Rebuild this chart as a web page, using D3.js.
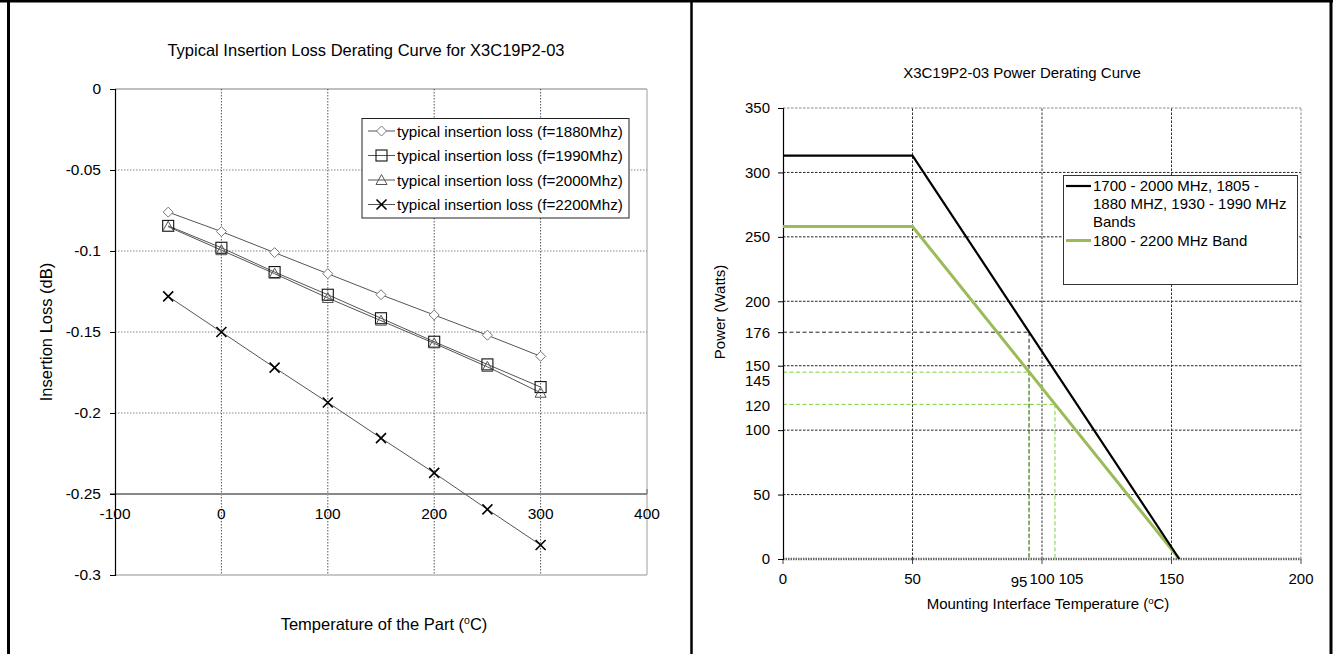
<!DOCTYPE html>
<html><head><meta charset="utf-8">
<script src="https://cdn.jsdelivr.net/npm/d3@7"></script>
<style>
html,body{margin:0;padding:0;background:#fff;}
svg{display:block;font-family:"Liberation Sans",Arial,sans-serif;}
</style></head>
<body>
<svg id="c" width="1333" height="654"></svg>
<script>
// ---------- DATA ----------
const tempsL = [-50, 0, 50, 100, 150, 200, 250, 300];
const loss1880 = [-0.076, -0.088, -0.101, -0.114, -0.127, -0.1395, -0.152, -0.165];
const loss1990 = [-0.0845, -0.098, -0.113, -0.127, -0.1415, -0.156, -0.170, -0.184];
const loss2000 = [-0.085, -0.0995, -0.114, -0.129, -0.143, -0.157, -0.1715, -0.1875];
const loss2200 = [-0.128, -0.150, -0.172, -0.1935, -0.2155, -0.237, -0.2595, -0.2815];
const seriesNamesL = ["typical insertion loss (f=1880Mhz)", "typical insertion loss (f=1990Mhz)",
                      "typical insertion loss (f=2000Mhz)", "typical insertion loss (f=2200Mhz)"];
const xTicksL = [-100, 0, 100, 200, 300, 400];
const yTicksL = [0, -0.05, -0.1, -0.15, -0.2, -0.25, -0.3];

const tempsR = [0, 50, 153];
const power1700 = [313, 313, 0];
const power1800 = [258, 258, 0];
const seriesNamesR = ["1700 - 2000 MHz, 1805 -|1880 MHZ, 1930 - 1990 MHz|Bands", "1800 - 2200 MHz Band"];
const xTicksR = [0, 50, 100, 150, 200];
const yTicksR = [0, 50, 100, 150, 200, 250, 300, 350];
const refTemps = [95, 95, 105];
const refPowers = [176, 145, 120];
const extraXLabels = [95, 105];
const extraYLabels = [176, 145, 120];

// ---------- SETUP ----------
const svg = d3.select("#c");
const FONT = '"Liberation Sans",Arial,sans-serif';

// frame
svg.append("rect").attr("x", 0).attr("y", 0).attr("width", 1333).attr("height", 654).attr("fill", "#fff");
svg.append("line").attr("x1", 0).attr("x2", 1333).attr("y1", 1).attr("y2", 1).attr("stroke", "#000").attr("stroke-width", 3);
svg.append("line").attr("x1", 8.5).attr("x2", 8.5).attr("y1", 0).attr("y2", 654).attr("stroke", "#000").attr("stroke-width", 3);
svg.append("line").attr("x1", 691.5).attr("x2", 691.5).attr("y1", 0).attr("y2", 654).attr("stroke", "#000").attr("stroke-width", 2.5);
svg.append("line").attr("x1", 1331).attr("x2", 1331).attr("y1", 0).attr("y2", 654).attr("stroke", "#000").attr("stroke-width", 3);

// ---------- LEFT CHART ----------
const xL = d3.scaleLinear().domain([-100, 400]).range([115, 647]);
const yL = d3.scaleLinear().domain([-0.3, 0]).range([575, 89]);
const gL = svg.append("g");

// plot border
gL.append("line").attr("x1", xL(-100)).attr("x2", xL(400)).attr("y1", yL(0)).attr("y2", yL(0)).attr("stroke", "#bfbfbf").attr("stroke-width", 2);
gL.append("line").attr("x1", xL(400)).attr("x2", xL(400)).attr("y1", yL(0)).attr("y2", yL(-0.3)).attr("stroke", "#bfbfbf").attr("stroke-width", 1.5);
gL.append("line").attr("x1", xL(-100)).attr("x2", xL(400)).attr("y1", yL(-0.3)).attr("y2", yL(-0.3)).attr("stroke", "#c8c8c8").attr("stroke-width", 2);

// gridlines
xTicksL.filter(v => v > -100 && v < 400).forEach(v => {
  gL.append("line").attr("x1", xL(v)).attr("x2", xL(v)).attr("y1", yL(0)).attr("y2", yL(-0.3))
    .attr("stroke", "#555").attr("stroke-width", 1).attr("stroke-dasharray", "1.5,1.5");
});
yTicksL.filter(v => v < 0 && v > -0.25).forEach(v => {
  gL.append("line").attr("x1", xL(-100)).attr("x2", xL(400)).attr("y1", yL(v)).attr("y2", yL(v))
    .attr("stroke", "#888").attr("stroke-width", 1.2).attr("stroke-dasharray", "1.5,1.5");
});
// x axis line at -0.25
gL.append("line").attr("x1", xL(-100) - 5).attr("x2", xL(400)).attr("y1", yL(-0.25)).attr("y2", yL(-0.25))
  .attr("stroke", "#888").attr("stroke-width", 2);
gL.append("line").attr("x1", xL(400)).attr("x2", xL(400)).attr("y1", yL(-0.25) - 5).attr("y2", yL(-0.25))
  .attr("stroke", "#888").attr("stroke-width", 1.5);

// y axis
const yAxisL = d3.axisLeft(yL).tickValues(yTicksL).tickSize(5).tickPadding(9)
  .tickFormat(d => d === 0 ? "0" : String(+d.toFixed(2)));
const yaxL = gL.append("g").attr("transform", `translate(${xL(-100)},0)`).call(yAxisL);
yaxL.select(".domain").attr("stroke", "#000").attr("stroke-width", 1.2);
yaxL.selectAll(".tick line").attr("stroke", "#000");
yaxL.selectAll(".tick text").attr("font-size", 15.5).attr("font-family", FONT).attr("fill", "#000");

// x labels
xTicksL.forEach(v => {
  gL.append("text").attr("x", xL(v)).attr("y", yL(-0.25) + 25).attr("text-anchor", "middle")
    .attr("font-size", 15.5).attr("font-family", FONT).text(v);
});

// series
const seriesL = [
  {vals: loss1880, marker: "diamond", mcolor: "#777"},
  {vals: loss1990, marker: "square", mcolor: "#111"},
  {vals: loss2000, marker: "triangle", mcolor: "#555"},
  {vals: loss2200, marker: "x", mcolor: "#000"}
];
const lineL = d3.line().x(d => xL(d[0])).y(d => yL(d[1]));

function drawMarker(g, type, cx, cy, color) {
  if (type === "diamond") {
    g.append("path").attr("d", `M${cx},${cy-5}L${cx+5},${cy}L${cx},${cy+5}L${cx-5},${cy}Z`)
      .attr("fill", "#fff").attr("stroke", color).attr("stroke-width", 1);
  } else if (type === "square") {
    g.append("rect").attr("x", cx - 5.5).attr("y", cy - 5.5).attr("width", 11).attr("height", 11)
      .attr("fill", "none").attr("stroke", color).attr("stroke-width", 1.1);
  } else if (type === "triangle") {
    g.append("path").attr("d", `M${cx},${cy-5.5}L${cx+5.5},${cy+4.5}L${cx-5.5},${cy+4.5}Z`)
      .attr("fill", "none").attr("stroke", color).attr("stroke-width", 1);
  } else {
    g.append("path").attr("d", `M${cx-5},${cy-5}L${cx+5},${cy+5}M${cx-5},${cy+5}L${cx+5},${cy-5}`)
      .attr("stroke", color).attr("stroke-width", 1.6);
  }
}

seriesL.forEach(s => {
  const pts = tempsL.map((t, i) => [t, s.vals[i]]);
  gL.append("path").attr("d", lineL(pts)).attr("fill", "none").attr("stroke", "#555").attr("stroke-width", 1);
});
seriesL.forEach(s => {
  tempsL.forEach((t, i) => drawMarker(gL, s.marker, xL(t), yL(s.vals[i]), s.mcolor));
});

// legend left
const legL = gL.append("g");
legL.append("rect").attr("x", 362).attr("y", 118.5).attr("width", 267).attr("height", 99.5)
  .attr("fill", "#fff").attr("stroke", "#222").attr("stroke-width", 1);
seriesL.forEach((s, i) => {
  const cy = 131 + i * 24.5;
  legL.append("line").attr("x1", 368).attr("x2", 395).attr("y1", cy).attr("y2", cy).attr("stroke", "#555").attr("stroke-width", 1);
  drawMarker(legL, s.marker, 381.5, cy, s.mcolor);
  legL.append("text").attr("x", 397).attr("y", cy + 5.5).attr("font-size", 15.2).attr("font-family", FONT).text(seriesNamesL[i]);
});

// titles
gL.append("text").attr("x", 366).attr("y", 56).attr("text-anchor", "middle").attr("font-size", 16.5)
  .attr("font-family", FONT).text("Typical Insertion Loss Derating Curve for X3C19P2-03");
gL.append("text").attr("transform", `translate(52,332) rotate(-90)`).attr("text-anchor", "middle")
  .attr("font-size", 16.5).attr("font-family", FONT).text("Insertion Loss (dB)");
const xtL = gL.append("text").attr("x", 384).attr("y", 630).attr("text-anchor", "middle")
  .attr("font-size", 16.5).attr("font-family", FONT);
xtL.append("tspan").text("Temperature of the Part (");
xtL.append("tspan").attr("font-size", 10.5).attr("dy", -6).text("o");
xtL.append("tspan").attr("dy", 6).text("C)");

// ---------- RIGHT CHART ----------
const xR = d3.scaleLinear().domain([0, 200]).range([783, 1301]);
const yR = d3.scaleLinear().domain([0, 350]).range([559, 108]);
const gR = svg.append("g");

// gridlines
yTicksR.filter(v => v > 0).forEach(v => {
  gR.append("line").attr("x1", xR(0)).attr("x2", xR(200)).attr("y1", yR(v)).attr("y2", yR(v))
    .attr("stroke", v === 350 ? "#888" : "#222").attr("stroke-width", 1).attr("stroke-dasharray", "2.5,1.5");
});
xTicksR.filter(v => v > 0).forEach(v => {
  gR.append("line").attr("x1", xR(v)).attr("x2", xR(v)).attr("y1", yR(0)).attr("y2", yR(350))
    .attr("stroke", v === 200 ? "#888" : "#333").attr("stroke-width", 1).attr("stroke-dasharray", "2.5,1.5");
});
// x axis line (0)
gR.append("line").attr("x1", xR(0)).attr("x2", xR(200)).attr("y1", yR(0)).attr("y2", yR(0))
  .attr("stroke", "#666").attr("stroke-width", 2.5).attr("stroke-dasharray", "1.5,1");
xTicksR.forEach(v => {
  gR.append("line").attr("x1", xR(v)).attr("x2", xR(v)).attr("y1", yR(0)).attr("y2", yR(0) + 5)
    .attr("stroke", "#444").attr("stroke-width", 1);
});

// reference dashed lines
const refColors = ["#222", "#7ed03c", "#7ed03c"];
refTemps.forEach((t, i) => {
  gR.append("line").attr("x1", xR(0)).attr("x2", xR(t)).attr("y1", yR(refPowers[i])).attr("y2", yR(refPowers[i]))
    .attr("stroke", refColors[i]).attr("stroke-width", 1).attr("stroke-dasharray", "4,2.5");
  gR.append("line").attr("x1", xR(t)).attr("x2", xR(t)).attr("y1", yR(refPowers[i])).attr("y2", yR(0))
    .attr("stroke", refColors[i]).attr("stroke-width", 1).attr("stroke-dasharray", "4,2.5");
});

// y axis
const yAxisR = d3.axisLeft(yR).tickValues(yTicksR.concat([176])).tickSize(5).tickPadding(8);
const yaxR = gR.append("g").attr("transform", `translate(${xR(0)},0)`).call(yAxisR);
yaxR.select(".domain").attr("stroke", "#000").attr("stroke-width", 1.2);
yaxR.selectAll(".tick line").attr("stroke", "#000");
yaxR.selectAll(".tick text").attr("font-size", 15).attr("font-family", FONT).attr("fill", "#000");
// extra y labels 145, 120 (no tick marks)
const extraYOff = {145: 9, 120: 2};
extraYLabels.filter(v => v !== 176).forEach(v => {
  gR.append("text").attr("x", xR(0) - 13).attr("y", yR(v) + extraYOff[v]).attr("dy", "0.32em")
    .attr("text-anchor", "end").attr("font-size", 15).attr("font-family", FONT).text(v);
});

// x labels
xTicksR.forEach(v => {
  gR.append("text").attr("x", xR(v)).attr("y", yR(0) + 25).attr("text-anchor", "middle")
    .attr("font-size", 15).attr("font-family", FONT).text(v);
});
const extraXOff = {95: [-10, 3], 105: [16, 0]};
extraXLabels.forEach(v => {
  gR.append("text").attr("x", xR(v) + extraXOff[v][0]).attr("y", yR(0) + 25 + extraXOff[v][1]).attr("text-anchor", "middle")
    .attr("font-size", 15).attr("font-family", FONT).text(v);
});

// power lines
const lineR = d3.line().x(d => xR(d[0])).y(d => yR(d[1]));
gR.append("path").attr("d", lineR(tempsR.map((t, i) => [t, power1800[i]])))
  .attr("fill", "none").attr("stroke", "#9bbb59").attr("stroke-width", 3);
gR.append("path").attr("d", lineR(tempsR.map((t, i) => [t, power1700[i]])))
  .attr("fill", "none").attr("stroke", "#000").attr("stroke-width", 2.2);

// legend right
const legR = gR.append("g");
legR.append("rect").attr("x", 1063.5).attr("y", 175.5).attr("width", 234).attr("height", 109)
  .attr("fill", "#fff").attr("stroke", "#333").attr("stroke-width", 1);
legR.append("line").attr("x1", 1066).attr("x2", 1091).attr("y1", 186).attr("y2", 186).attr("stroke", "#000").attr("stroke-width", 2.2);
legR.append("line").attr("x1", 1066).attr("x2", 1091).attr("y1", 240.5).attr("y2", 240.5).attr("stroke", "#9bbb59").attr("stroke-width", 3);
seriesNamesR[0].split("|").forEach((ln, i) => {
  legR.append("text").attr("x", 1093).attr("y", 191 + i * 18).attr("font-size", 15).attr("font-family", FONT).text(ln);
});
legR.append("text").attr("x", 1093).attr("y", 245.5).attr("font-size", 15).attr("font-family", FONT).text(seriesNamesR[1]);

// titles
gR.append("text").attr("x", 1022).attr("y", 78).attr("text-anchor", "middle").attr("font-size", 15)
  .attr("font-family", FONT).text("X3C19P2-03 Power Derating Curve");
gR.append("text").attr("transform", `translate(725,312) rotate(-90)`).attr("text-anchor", "middle")
  .attr("font-size", 15).attr("font-family", FONT).text("Power (Watts)");
const xtR = gR.append("text").attr("x", 1048).attr("y", 609).attr("text-anchor", "middle")
  .attr("font-size", 15).attr("font-family", FONT);
xtR.append("tspan").text("Mounting Interface Temperature (");
xtR.append("tspan").attr("font-size", 9.5).attr("dy", -5).text("o");
xtR.append("tspan").attr("dy", 5).text("C)");
</script>
</body></html>
